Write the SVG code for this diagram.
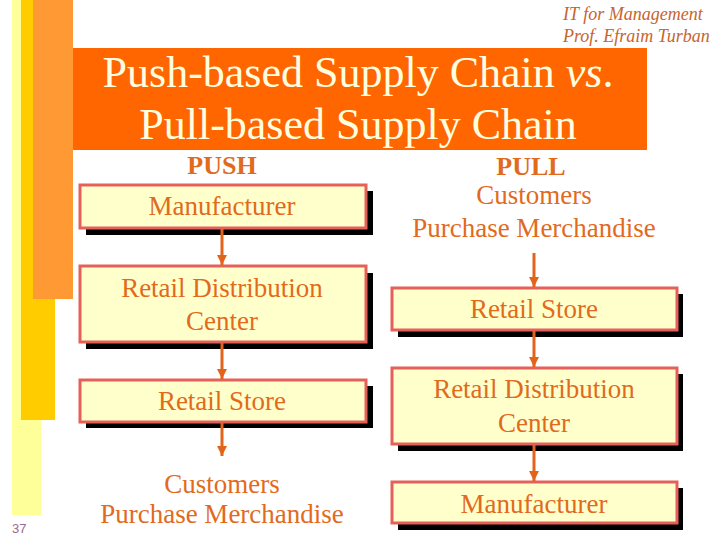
<svg xmlns="http://www.w3.org/2000/svg" width="720" height="540" viewBox="0 0 720 540">
<defs>
<style>
.t{font-family:"Liberation Serif","Times New Roman",serif;fill:#E26A1C;font-size:27px;text-anchor:middle}
.h{font-weight:bold;font-size:26px}
.box{fill:#FFFFCC;stroke:#E5605A;stroke-width:3}
.sh{fill:#000}
.c{stroke:#E2641A;stroke-width:3;fill:none;marker-end:url(#ah)}
.hd{font-family:"Liberation Serif","Times New Roman",serif;font-style:italic;font-size:18px;fill:#C8642E}
</style>
<marker id="ah" viewBox="0 0 10 10" refX="10" refY="5" markerUnits="userSpaceOnUse" markerWidth="10" markerHeight="10" orient="auto">
<path d="M0,0 L10,5 L0,10 z" fill="#E2641A"/>
</marker>
</defs>
<rect width="720" height="540" fill="#fff"/>
<g id="decor">
<rect x="12" y="0" width="29" height="515" fill="#FFFF99"/>
<rect x="21" y="0" width="34" height="420" fill="#FFCC00"/>
<rect x="33" y="0" width="40" height="299" fill="#FF9933"/>
<text x="12" y="533" font-family="'Liberation Sans',Arial,sans-serif" font-size="13" fill="#9A6A8A">37</text>
</g>
<g id="header">
<text class="hd" x="563" y="20">IT for Management</text>
<text class="hd" x="563" y="42">Prof. Efraim Turban</text>
</g>
<g id="title">
<rect x="73" y="48" width="574" height="102" fill="#FF6600"/>
<text x="358" y="87" font-family="'Liberation Serif','Times New Roman',serif" font-size="44" fill="#FFFFE0" text-anchor="middle">Push-based Supply Chain <tspan font-style="italic">vs</tspan>.</text>
<text x="358" y="139" font-family="'Liberation Serif','Times New Roman',serif" font-size="44" fill="#FFFFE0" text-anchor="middle">Pull-based Supply Chain</text>
</g>
<g id="push-label"><text class="t h" x="222" y="174">PUSH</text></g>
<g id="pull-label"><text class="t h" x="531" y="175">PULL</text></g>
<g id="push-manufacturer">
<rect class="sh" x="86" y="191" width="287" height="44"/>
<rect class="box" x="80" y="185" width="286" height="43"/>
<text class="t" x="222" y="215">Manufacturer</text>
</g>
<g id="push-rdc">
<rect class="sh" x="86" y="273" width="287" height="76"/>
<rect class="box" x="80" y="266" width="286" height="76"/>
<text class="t" x="222" y="297">Retail Distribution</text>
<text class="t" x="222" y="330">Center</text>
</g>
<g id="push-store">
<rect class="sh" x="86" y="386" width="287" height="42"/>
<rect class="box" x="80" y="380" width="286" height="42"/>
<text class="t" x="222" y="410">Retail Store</text>
</g>
<g id="push-customers">
<text class="t" x="222" y="493">Customers</text>
<text class="t" x="222" y="523">Purchase Merchandise</text>
</g>
<g id="pull-customers">
<text class="t" x="534" y="204">Customers</text>
<text class="t" x="534" y="237">Purchase Merchandise</text>
</g>
<g id="pull-store">
<rect class="sh" x="398" y="294" width="285" height="43"/>
<rect class="box" x="392" y="288" width="285" height="42"/>
<text class="t" x="534" y="318">Retail Store</text>
</g>
<g id="pull-rdc">
<rect class="sh" x="398" y="374" width="285" height="77"/>
<rect class="box" x="392" y="368" width="285" height="76"/>
<text class="t" x="534" y="398">Retail Distribution</text>
<text class="t" x="534" y="432">Center</text>
</g>
<g id="pull-manufacturer">
<rect class="sh" x="398" y="488" width="285" height="42"/>
<rect class="box" x="392" y="482" width="285" height="41"/>
<text class="t" x="534" y="513">Manufacturer</text>
</g>
<g id="connectors">
<line class="c" x1="222" y1="229" x2="222" y2="265"/>
<line class="c" x1="222" y1="343" x2="222" y2="379"/>
<line class="c" x1="222" y1="423" x2="222" y2="456"/>
<line class="c" x1="534" y1="253" x2="534" y2="287"/>
<line class="c" x1="534" y1="331" x2="534" y2="367"/>
<line class="c" x1="534" y1="445" x2="534" y2="481"/>
</g>
</svg>
